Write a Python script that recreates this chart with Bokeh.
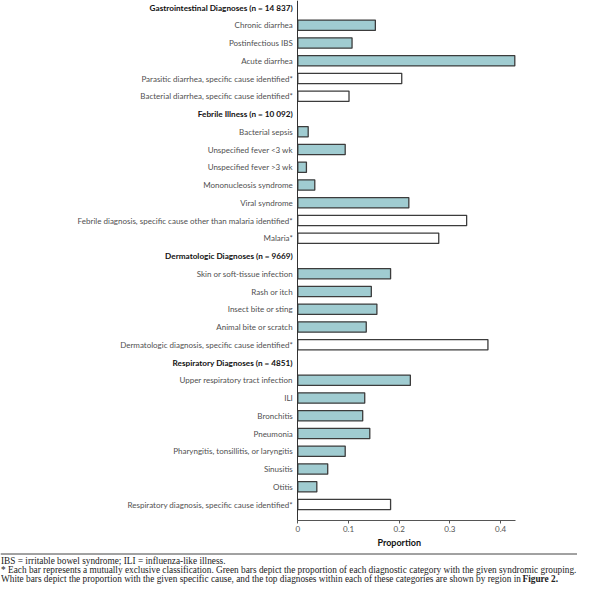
from bokeh.plotting import figure
from bokeh.models import (Range1d, LinearAxis, FixedTicker, ColumnDataSource, Span)
from bokeh.core.properties import value
from bokeh.embed import file_html
from bokeh.resources import INLINE

# ---------------- data ----------------
group_titles = [
    "Gastrointestinal Diagnoses (n = 14 837)",
    "Febrile Illness (n = 10 092)",
    "Dermatologic Diagnoses (n = 9669)",
    "Respiratory Diagnoses (n = 4851)",
]
gi_labels = ["Chronic diarrhea", "Postinfectious IBS", "Acute diarrhea",
             "Parasitic diarrhea, specific cause identified*",
             "Bacterial diarrhea, specific cause identified*"]
gi_values = [0.153, 0.107, 0.428, 0.205, 0.101]
gi_specific = [False, False, False, True, True]

feb_labels = ["Bacterial sepsis", "Unspecified fever <3 wk", "Unspecified fever >3 wk",
              "Mononucleosis syndrome", "Viral syndrome",
              "Febrile diagnosis, specific cause other than malaria identified*",
              "Malaria*"]
feb_values = [0.0205, 0.0935, 0.017, 0.0335, 0.219, 0.333, 0.278]
feb_specific = [False, False, False, False, False, True, True]

derm_labels = ["Skin or soft-tissue infection", "Rash or itch", "Insect bite or sting",
               "Animal bite or scratch", "Dermatologic diagnosis, specific cause identified*"]
derm_values = [0.183, 0.145, 0.156, 0.135, 0.375]
derm_specific = [False, False, False, False, True]

resp_labels = ["Upper respiratory tract infection", "ILI", "Bronchitis", "Pneumonia",
               "Pharyngitis, tonsillitis, or laryngitis", "Sinusitis", "Otitis",
               "Respiratory diagnosis, specific cause identified*"]
resp_values = [0.222, 0.132, 0.128, 0.142, 0.0935, 0.059, 0.0375, 0.183]
resp_specific = [False, False, False, False, False, False, False, True]

tick_values = [0, 0.1, 0.2, 0.3, 0.4]
tick_labels = ["0", "0.1", "0.2", "0.3", "0.4"]
x_label = "Proportion"

footnote_1 = "IBS = irritable bowel syndrome; ILI = influenza-like illness."
footnote_2 = ("* Each bar represents a mutually exclusive classification. Green bars depict the "
              "proportion of each diagnostic category with the given syndromic grouping.")
footnote_3 = ("White bars depict the proportion with the given specific cause, and the top "
              "diagnoses within each of these categories are shown by region in")
footnote_3_ref = "Figure 2."

# ---------------- build rows ----------------
groups = [(gi_labels, gi_values, gi_specific), (feb_labels, feb_values, feb_specific),
          (derm_labels, derm_values, derm_specific), (resp_labels, resp_values, resp_specific)]

title_rows, item_rows = [], []
item_lab, item_val, item_fill = [], [], []
r = 0
for title, (labs, vals, spec) in zip(group_titles, groups):
    title_rows.append(r)
    r += 1
    for l, v, s in zip(labs, vals, spec):
        item_rows.append(r)
        item_lab.append(l)
        item_val.append(v)
        item_fill.append("white" if s else "#a0ccd1")
        r += 1

# ---------------- geometry (pixels of the figure) ----------------
W, H = 577, 584
ROW_PX = 17.75
ROW0 = 7.0


def px_to_row(py):
    return (py - ROW0) / ROW_PX


PX_PER_UNIT = 507.0
ZERO_PX = 297.3
x0 = -ZERO_PX / PX_PER_UNIT
x1 = (W - ZERO_PX) / PX_PER_UNIT
y_top = px_to_row(0)
y_bot = px_to_row(H)
axis_row = px_to_row(520.3)

p = figure(width=W, height=H, x_range=Range1d(x0, x1), y_range=Range1d(y_bot, y_top),
           x_axis_type=None, y_axis_type=None, toolbar_location=None,
           output_backend="svg", min_border=0, outline_line_color=None)
p.min_border_left = p.min_border_right = p.min_border_top = p.min_border_bottom = 0

# bars
src = ColumnDataSource(dict(y=item_rows, v=item_val, fill=item_fill, lab=item_lab))
p.hbar(y="y", left=0, right="v", height=0.58, source=src, fill_color="fill",
       line_color="#3c3c3c", line_width=1.3)

# row labels
p.text(x=0, y="y", text="lab", source=src, x_offset=-5, text_align="right",
       text_baseline="middle", text_font=value("Lato"), text_font_size="8px",
       text_color="#505050")
tsrc = ColumnDataSource(dict(y=title_rows, t=group_titles))
p.text(x=0, y="y", text="t", source=tsrc, x_offset=-5, text_align="right",
       text_baseline="middle", text_font=value("Lato"), text_font_size="8.2px",
       text_font_style="bold", text_color="#111111")

# axes
xaxis = LinearAxis(fixed_location=axis_row, ticker=FixedTicker(ticks=tick_values),
                   bounds=(0, 0.43))
xaxis.major_label_overrides = {v: l for v, l in zip(tick_values, tick_labels)}
xaxis.minor_tick_line_color = None
xaxis.major_tick_in = 0
xaxis.major_tick_out = 3
xaxis.axis_line_color = "#555555"
xaxis.major_tick_line_color = "#555555"
xaxis.major_label_text_font = "Lato"
xaxis.major_label_text_font_size = "8px"
xaxis.major_label_text_color = "#555555"
xaxis.major_label_standoff = 2
p.add_layout(xaxis, "below")

yaxis = LinearAxis(fixed_location=0, ticker=FixedTicker(ticks=[]), bounds=(y_top, axis_row))
yaxis.axis_line_color = "#333333"
yaxis.minor_tick_line_color = None
yaxis.major_tick_line_color = None
yaxis.major_label_text_font_size = "0px"
p.add_layout(yaxis, "left")

p.text(x=[0.2], y=[px_to_row(541.5)], text=[x_label], text_align="center",
       text_baseline="middle", text_font=value("Lato"), text_font_size="9px",
       text_font_style="bold", text_color="#111111")

# footnotes
p.add_layout(Span(location=px_to_row(553.5), dimension="width", line_color="#444444",
                  line_width=1))
fx = x0 + 0.5 / PX_PER_UNIT
fy = [px_to_row(560.5), px_to_row(569.5), px_to_row(578.5)]
p.text(x=[fx, fx, fx], y=fy,
       text=[footnote_1, footnote_2, footnote_3], text_align="left",
       text_baseline="middle", text_font=value("Liberation Serif"),
       text_font_size="9.3px", text_color="#222222")
p.text(x=[x0 + 522 / PX_PER_UNIT], y=[fy[2]], text=[footnote_3_ref],
       text_align="left", text_baseline="middle", text_font=value("Liberation Serif"),
       text_font_size="9.3px", text_font_style="bold", text_color="#222222")

open("out.html", "w").write(file_html(p, INLINE))
